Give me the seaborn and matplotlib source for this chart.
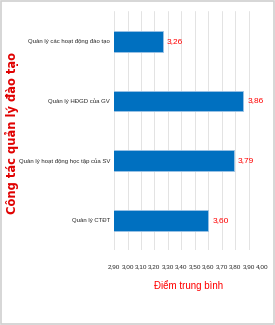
import matplotlib
matplotlib.use("Agg")
import matplotlib.pyplot as plt
import seaborn as sns
import pandas as pd
from matplotlib.patches import Rectangle

categories = ["Quản lý các hoạt động đào tạo", "Quản lý HĐGD của GV",
              "Quản lý hoạt động học tập của SV", "Quản lý CTĐT"]
values = [3.26, 3.86, 3.79, 3.60]
value_labels = ["3,26", "3,86", "3,79", "3,60"]
xticks = [2.90, 3.00, 3.10, 3.20, 3.30, 3.40, 3.50, 3.60, 3.70, 3.80, 3.90, 4.00]
xtick_labels = ["2,90", "3,00", "3,10", "3,20", "3,30", "3,40", "3,50", "3,60", "3,70", "3,80", "3,90", "4,00"]

sns.set_style("white")
plt.rcParams['font.family'] = ['Liberation Sans', 'DejaVu Sans']

df = pd.DataFrame({"cat": categories, "val": values})

fig = plt.figure(figsize=(2.75, 3.25), dpi=100)
ax = fig.add_axes([0.415, 0.23, 0.538, 0.735])
sns.barplot(data=df, x="val", y="cat", color="#0070C0", width=0.35, saturation=1,
            edgecolor="#9DC3E6", linewidth=0.6, ax=ax, orient="h")
ax.set_xlim(2.9, 4.0)
ax.set_xticks(xticks)
ax.set_xticklabels(xtick_labels, fontsize=4.6)
ax.tick_params(axis='x', length=0, pad=10)
ax.tick_params(axis='y', length=0, pad=3, labelsize=4.3)
ax.grid(axis='x', color='#E3E3E3', linewidth=0.7)
ax.set_axisbelow(True)
for s in ax.spines.values():
    s.set_visible(False)
ax.set_ylabel("")
ax.set_xlabel("Điểm trung bình", color="#FF0000", fontsize=7, labelpad=8)
for i, (v, lab) in enumerate(zip(values, value_labels)):
    ax.text(v + 0.03, i, lab, color="#FF0000", fontsize=6, va="center", ha="left")

fig.text(0.042, 0.59, "Công tác quản lý đào tạo", rotation=90, color="#E00000",
         fontsize=8.3, fontweight="bold", ha="center", va="center",
         family=['DejaVu Sans'])
fig.patches.append(Rectangle((0.003, 0.003), 0.994, 0.994, transform=fig.transFigure,
                             fill=False, edgecolor="#D0D0D0", linewidth=1.2))
fig.savefig("out.png", dpi=100)
